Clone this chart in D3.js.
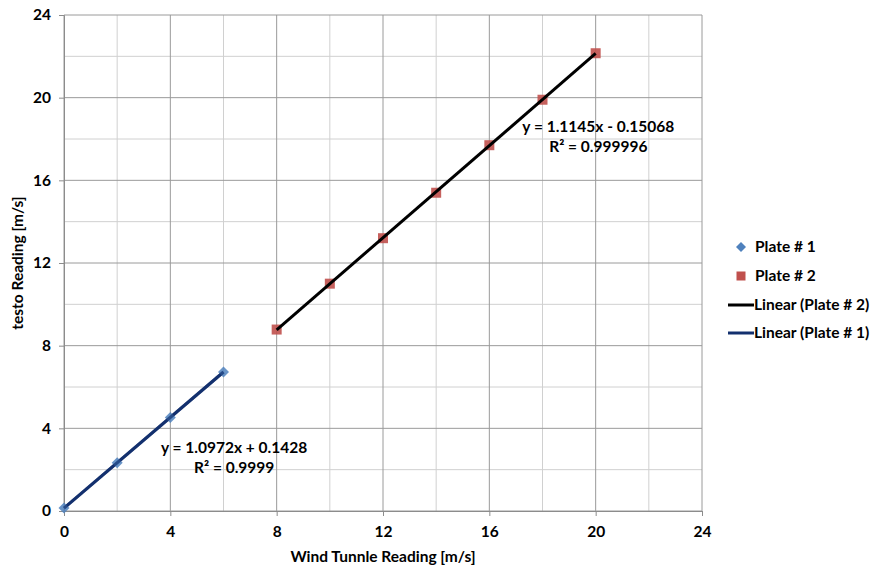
<!DOCTYPE html>
<html><head><meta charset="utf-8">
<script src="https://cdn.jsdelivr.net/npm/d3@7"></script>
<style>
body{margin:0;background:#fff;}
text{font-family:Lato,"Liberation Sans",sans-serif;font-weight:bold;fill:#000;}
</style></head>
<body><svg id="c" width="877" height="574"></svg>
<script>
const plate1X = [0, 2, 4, 6];
const plate1Y = [0.15, 2.33, 4.53, 6.73];
const plate2X = [8, 10, 12, 14, 16, 18, 20];
const plate2Y = [8.78, 11.0, 13.2, 15.4, 17.7, 19.9, 22.15];
const trendNames = ["Linear (Plate # 1)", "Linear (Plate # 2)"];
const trendSlope = [1.0972, 1.1145];
const trendIntercept = [0.1428, -0.15068];
const trendRange = [[0, 6], [8, 20]];
const eqLabels = [["y = 1.0972x + 0.1428", "R² = 0.9999"], ["y = 1.1145x - 0.15068", "R² = 0.999996"]];
const eqPos = [[6.4, 2.8], [20.1, 18.34]];
const xTicks = [0, 4, 8, 12, 16, 20, 24];
const yTicks = [0, 4, 8, 12, 16, 20, 24];
const minorTicks = [2, 6, 10, 14, 18, 22];

const FS = 15.5;
const svg = d3.select("#c");
const x = d3.scaleLinear().domain([0, 24]).range([64, 702]);
const y = d3.scaleLinear().domain([0, 24]).range([511, 15]);

// grid
const g = svg.append("g");
g.selectAll(".mv").data(minorTicks).join("line").attr("x1", d => x(d)).attr("x2", d => x(d)).attr("y1", y(0)).attr("y2", y(24)).attr("stroke", "#d0d0d0").attr("stroke-width", 1);
g.selectAll(".mh").data(minorTicks).join("line").attr("y1", d => y(d)).attr("y2", d => y(d)).attr("x1", x(0)).attr("x2", x(24)).attr("stroke", "#d0d0d0").attr("stroke-width", 1);
g.selectAll(".Mv").data(xTicks).join("line").attr("x1", d => x(d)).attr("x2", d => x(d)).attr("y1", y(0)).attr("y2", y(24)).attr("stroke", "#9a9a9a").attr("stroke-width", 1);
g.selectAll(".Mh").data(yTicks).join("line").attr("y1", d => y(d)).attr("y2", d => y(d)).attr("x1", x(0)).attr("x2", x(24)).attr("stroke", "#9a9a9a").attr("stroke-width", 1);

// axes
const xa = svg.append("g").attr("transform", `translate(0,${y(0)})`)
  .call(d3.axisBottom(x).tickValues(xTicks).tickSize(5).tickPadding(10));
const ya = svg.append("g").attr("transform", `translate(${x(0)},0)`)
  .call(d3.axisLeft(y).tickValues(yTicks).tickSize(5).tickPadding(8));
[xa, ya].forEach(a => {
  a.select(".domain").attr("stroke", "#8c8c8c");
  a.selectAll(".tick line").attr("stroke", "#8c8c8c");
  a.selectAll("text").attr("font-size", FS).attr("font-family", "Lato, 'Liberation Sans', sans-serif").attr("font-weight", "bold").attr("fill", "#000");
});

const lineColors = ["#13306e", "#000000"];
function trend(i, op) {
  const m = trendSlope[i], [a, b] = trendRange[i];
  svg.append("line").attr("x1", x(a)).attr("y1", y(m * a + trendIntercept[i]))
    .attr("x2", x(b)).attr("y2", y(m * b + trendIntercept[i]))
    .attr("stroke", lineColors[i]).attr("stroke-width", 3).attr("opacity", op);
}
trend(0, 1);

// markers
const p1 = plate1X.map((d, i) => [d, plate1Y[i]]);
const p2 = plate2X.map((d, i) => [d, plate2Y[i]]);
svg.selectAll(".p2").data(p2).join("rect")
  .attr("x", d => x(d[0]) - 5).attr("y", d => y(d[1]) - 5).attr("width", 10).attr("height", 10)
  .attr("fill", "#c0504d").attr("opacity", 0.9);
svg.selectAll(".p1").data(p1).join("path")
  .attr("transform", d => `translate(${x(d[0])},${y(d[1])})`)
  .attr("d", "M0,-5.5L5.5,0L0,5.5L-5.5,0Z").attr("fill", "#4f81bd").attr("opacity", 0.85);
trend(0, 0.6);
trend(1, 1);

// equations
eqLabels.forEach((lab, i) => {
  const t = svg.append("text").attr("x", x(eqPos[i][0])).attr("y", y(eqPos[i][1]))
    .attr("text-anchor", "middle").attr("font-size", FS);
  t.append("tspan").attr("x", x(eqPos[i][0])).text(lab[0]);
  t.append("tspan").attr("x", x(eqPos[i][0])).attr("dy", 20).text(lab[1]);
});

// axis titles
svg.append("text").attr("x", 383).attr("y", 562).attr("text-anchor", "middle").attr("font-size", FS).text("Wind Tunnle Reading [m/s]");
svg.append("text").attr("transform", "translate(23,263) rotate(-90)").attr("text-anchor", "middle").attr("font-size", FS).text("testo Reading [m/s]");

// legend
const legendNames = ["Plate # 1", "Plate # 2", "Linear (Plate # 2)", "Linear (Plate # 1)"];
const ly = [247, 276, 305, 333];
const lg = svg.append("g");
lg.append("path").attr("transform", `translate(741,${ly[0]})`).attr("d", "M0,-5L5,0L0,5L-5,0Z").attr("fill", "#4f81bd");
lg.append("rect").attr("x", 736.5).attr("y", ly[1] - 4.5).attr("width", 9).attr("height", 9).attr("fill", "#c0504d");
lg.append("line").attr("x1", 728).attr("x2", 754).attr("y1", ly[2]).attr("y2", ly[2]).attr("stroke", "#000").attr("stroke-width", 3);
lg.append("line").attr("x1", 728).attr("x2", 754).attr("y1", ly[3]).attr("y2", ly[3]).attr("stroke", "#13306e").attr("stroke-width", 3);
legendNames.forEach((n, i) => {
  lg.append("text").attr("x", i < 2 ? 755 : 754).attr("y", ly[i] + 5).attr("font-size", FS).text(n);
});
</script></body></html>
